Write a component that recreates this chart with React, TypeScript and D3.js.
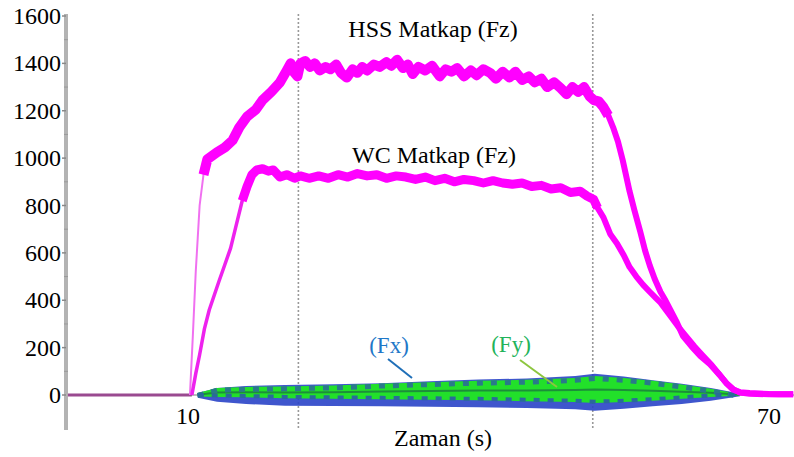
import React from 'react'
import { scaleLinear, line, area } from 'd3'

// time (s) / force pairs
const hss: [number, number][] = [
  [10.2, 0], [10.5, 250], [10.8, 520], [11.2, 800], [11.6, 930], [12, 995], [12.5, 1010], [13, 1025],
  [13.8, 1045], [14.6, 1075], [15.3, 1130], [16.1, 1175], [17, 1205], [17.7, 1245], [18.6, 1280],
  [19.5, 1320], [20.2, 1370], [20.6, 1400], [21, 1360], [21.3, 1345], [21.6, 1400], [22.1, 1410],
  [22.6, 1385], [23.1, 1400], [23.6, 1370], [24.2, 1385], [24.7, 1375], [25.3, 1395], [25.8, 1360],
  [26.4, 1340], [27, 1375], [27.5, 1360], [28, 1385], [28.5, 1370], [29.2, 1395], [29.8, 1385],
  [30.5, 1405], [31, 1390], [31.6, 1415], [32.2, 1380], [32.7, 1395], [33.2, 1355], [33.8, 1385],
  [34.5, 1370], [35.2, 1390], [36, 1345], [36.6, 1375], [37.2, 1365], [37.8, 1380], [38.5, 1345],
  [39.2, 1370], [39.8, 1350], [40.5, 1375], [41.2, 1360], [41.8, 1335], [42.5, 1365], [43.2, 1340],
  [43.8, 1365], [44.5, 1330], [45.2, 1345], [45.8, 1320], [46.5, 1335], [47.1, 1300], [47.8, 1320],
  [48.5, 1295], [49.1, 1270], [49.7, 1300], [50.3, 1280], [50.9, 1300], [51.5, 1260], [51.9, 1245],
  [52.4, 1240], [52.9, 1215], [53.4, 1180], [53.9, 1130], [54.4, 1070], [54.9, 990], [55.6, 860],
  [56.1, 780], [56.7, 690], [57.2, 610], [57.7, 545], [58.2, 490], [58.8, 435], [59.3, 400],
  [59.8, 360], [60.5, 305], [61.1, 250], [62, 205], [62.9, 165], [63.9, 130], [64.9, 85], [65.6, 50],
  [66.3, 22], [67, 12], [68, 8], [69, 6], [70, 4], [71, 3], [72.5, 3],
]

const wc: [number, number][] = [
  [10.4, 0], [10.8, 90], [11.2, 170], [11.7, 280], [12.2, 360], [12.7, 420], [13.2, 480], [13.8, 550],
  [14.4, 620], [15, 720], [15.6, 820], [16.1, 880], [16.6, 930], [17.1, 950], [17.7, 955], [18.3, 945],
  [18.8, 950], [19.5, 920], [20.2, 930], [21, 915], [21.6, 925], [22.5, 915], [23.5, 925], [24.5, 915],
  [25.5, 930], [26.5, 920], [27.5, 935], [28.5, 925], [29.5, 930], [30.5, 915], [31.5, 925],
  [32.5, 920], [33.5, 910], [34.5, 920], [35.5, 905], [36.5, 915], [37.5, 900], [38.5, 910],
  [39.5, 905], [40.5, 895], [41.5, 905], [42.5, 895], [43.5, 890], [44.5, 895], [45.5, 880],
  [46.5, 885], [47.5, 870], [48.5, 875], [49.5, 855], [50.5, 860], [51.2, 840], [51.9, 825],
  [52.3, 790], [52.9, 750], [53.6, 680], [54.3, 640], [55, 590], [55.6, 540], [56.3, 500], [57, 465],
  [57.7, 435], [58.3, 410], [58.8, 390], [59.8, 335], [60.6, 290], [61.4, 250], [62.3, 205],
  [63.2, 165], [64.1, 125], [64.9, 85], [65.6, 50], [66.3, 25], [67, 10], [68, 5], [70, 3], [72.5, 3],
]

const idle: [number, number][] = [[-2.4, 0], [10.4, 0]]

// Fx / Fy envelopes
const sideTimes = [11, 13, 16, 20, 25, 30, 35, 40, 45, 50, 52, 55, 58, 61, 64, 67]
const fxHigh = [8, 30, 38, 42, 45, 50, 58, 65, 70, 80, 90, 78, 62, 48, 30, 6]
const fxLow = [-12, -28, -38, -45, -46, -48, -50, -52, -55, -60, -66, -58, -48, -38, -24, -5]
const fyHigh = [8, 30, 34, 36, 40, 48, 54, 60, 64, 72, 80, 72, 60, 44, 26, 4]
const fyLow = [-6, -8, -10, -14, -16, -18, -20, -22, -26, -30, -34, -30, -24, -16, -8, -2]

const yTicks = [0, 200, 400, 600, 800, 1000, 1200, 1400, 1600]
const xTicks = [10, 70]
const markers = [21.4, 51.8]

const font = 'Liberation Serif'

export default function App() {
  const x = scaleLinear().domain([10, 70]).range([188, 769])
  const y = scaleLinear().domain([0, 1600]).range([395, 16])

  const ln = line<[number, number]>().x(d => x(d[0])).y(d => y(d[1]))
  const band = (hi: number[], lo: number[]) =>
    area<number>().x((_, i) => x(sideTimes[i])).y0((_, i) => y(lo[i])).y1((_, i) => y(hi[i]))(sideTimes)
  const mid = line<number>().x((_, i) => x(sideTimes[i])).y((_, i) => y((fyHigh[i] + fyLow[i]) / 2))
  const edge = (vals: number[]) => line<number>().x((_, i) => x(sideTimes[i])).y((_, i) => y(vals[i]))(sideTimes)

  return (
    <svg width={794} height={457} style={{ position: 'absolute', left: 0, top: 0, background: '#fff' }}>
      {/* dotted markers */}
      {markers.map(m => (
        <line key={m} x1={x(m)} x2={x(m)} y1={14} y2={430} stroke="#999" strokeWidth={1.6} strokeDasharray="2 2" />
      ))}

      {/* baseline */}
      <line x1={66} x2={794} y1={y(0)} y2={y(0)} stroke="#bbb" strokeWidth={2} />

      {/* y axis */}
      <line x1={66} x2={66} y1={14} y2={430} stroke="#b3b3b3" strokeWidth={4} />
      {yTicks.map(t => (
        <g key={t}>
          <line x1={62} x2={66} y1={y(t)} y2={y(t)} stroke="#888" strokeWidth={1.5} />
          <text x={61} y={y(t) + 8} textAnchor="end" fontFamily={font} fontSize={24} fill="#000">{t}</text>
        </g>
      ))}
      {yTicks.slice(0, -1).map(t => (
        <line key={'m' + t} x1={64} x2={68} y1={y(t + 100)} y2={y(t + 100)} stroke="#999" strokeWidth={1} />
      ))}

      {/* x labels */}
      {xTicks.map(t => (
        <text key={t} x={x(t)} y={424} textAnchor="middle" fontFamily={font} fontSize={24} fill="#000">{t}</text>
      ))}
      <text x={443} y={446} textAnchor="middle" fontFamily={font} fontSize={24} fill="#000">Zaman (s)</text>

      {/* Fx / Fy */}
      <path d={band(fxHigh, fxLow) || ''} fill="#2a44c8" opacity={0.9} />
      <path d={band(fyHigh, fyLow) || ''} fill="#22e02a" />
      <path d={mid(sideTimes) || ''} fill="none" stroke="#1c8f3a" strokeWidth={2} />
      <path d={edge(fyHigh.map(v => v - 10)) || ''} fill="none" stroke="#2a7a8a" strokeWidth={5} strokeDasharray="6 8" />
      <path d={edge(fyLow.map(v => v + 6)) || ''} fill="none" stroke="#2a6a9a" strokeWidth={4} strokeDasharray="6 8" />

      {/* idle segment */}
      <path d={ln(idle) || ''} fill="none" stroke="#9a4a90" strokeWidth={3} />

      {/* Fz curves */}
      <path d={ln(hss.filter(d => d[0] <= 12)) || ''} fill="none" stroke="#f070f0" strokeWidth={2} />
      <path d={ln(hss.filter(d => d[0] >= 11.6 && d[0] <= 53.4)) || ''} fill="none" stroke="#ff00ff" strokeWidth={10} strokeLinejoin="round" />
      <path d={ln(hss.filter(d => d[0] >= 52.9)) || ''} fill="none" stroke="#ff00ff" strokeWidth={6} strokeLinejoin="round" />
      <path d={ln(wc.filter(d => d[0] <= 16.1)) || ''} fill="none" stroke="#ee22ee" strokeWidth={3.5} strokeLinejoin="round" />
      <path d={ln(wc.filter(d => d[0] >= 15.6 && d[0] <= 52.3)) || ''} fill="none" stroke="#ff00ff" strokeWidth={9} strokeLinejoin="round" />
      <path d={ln(wc.filter(d => d[0] >= 51.9)) || ''} fill="none" stroke="#ff00ff" strokeWidth={6} strokeLinejoin="round" />

      {/* labels */}
      <text x={433} y={37} textAnchor="middle" fontFamily={font} fontSize={24} fill="#000">HSS Matkap (Fz)</text>
      <text x={434} y={163} textAnchor="middle" fontFamily={font} fontSize={24} fill="#000">WC Matkap (Fz)</text>
      <text x={389} y={353} textAnchor="middle" fontFamily={font} fontSize={23} fill="#1f78c8">(Fx)</text>
      <line x1={388} x2={412} y1={359} y2={378} stroke="#1f6fb8" strokeWidth={2} />
      <text x={511} y={352} textAnchor="middle" fontFamily={font} fontSize={23} fill="#22b35a">(Fy)</text>
      <line x1={520} x2={557} y1={360} y2={387} stroke="#8dc63f" strokeWidth={2} />
    </svg>
  )
}
